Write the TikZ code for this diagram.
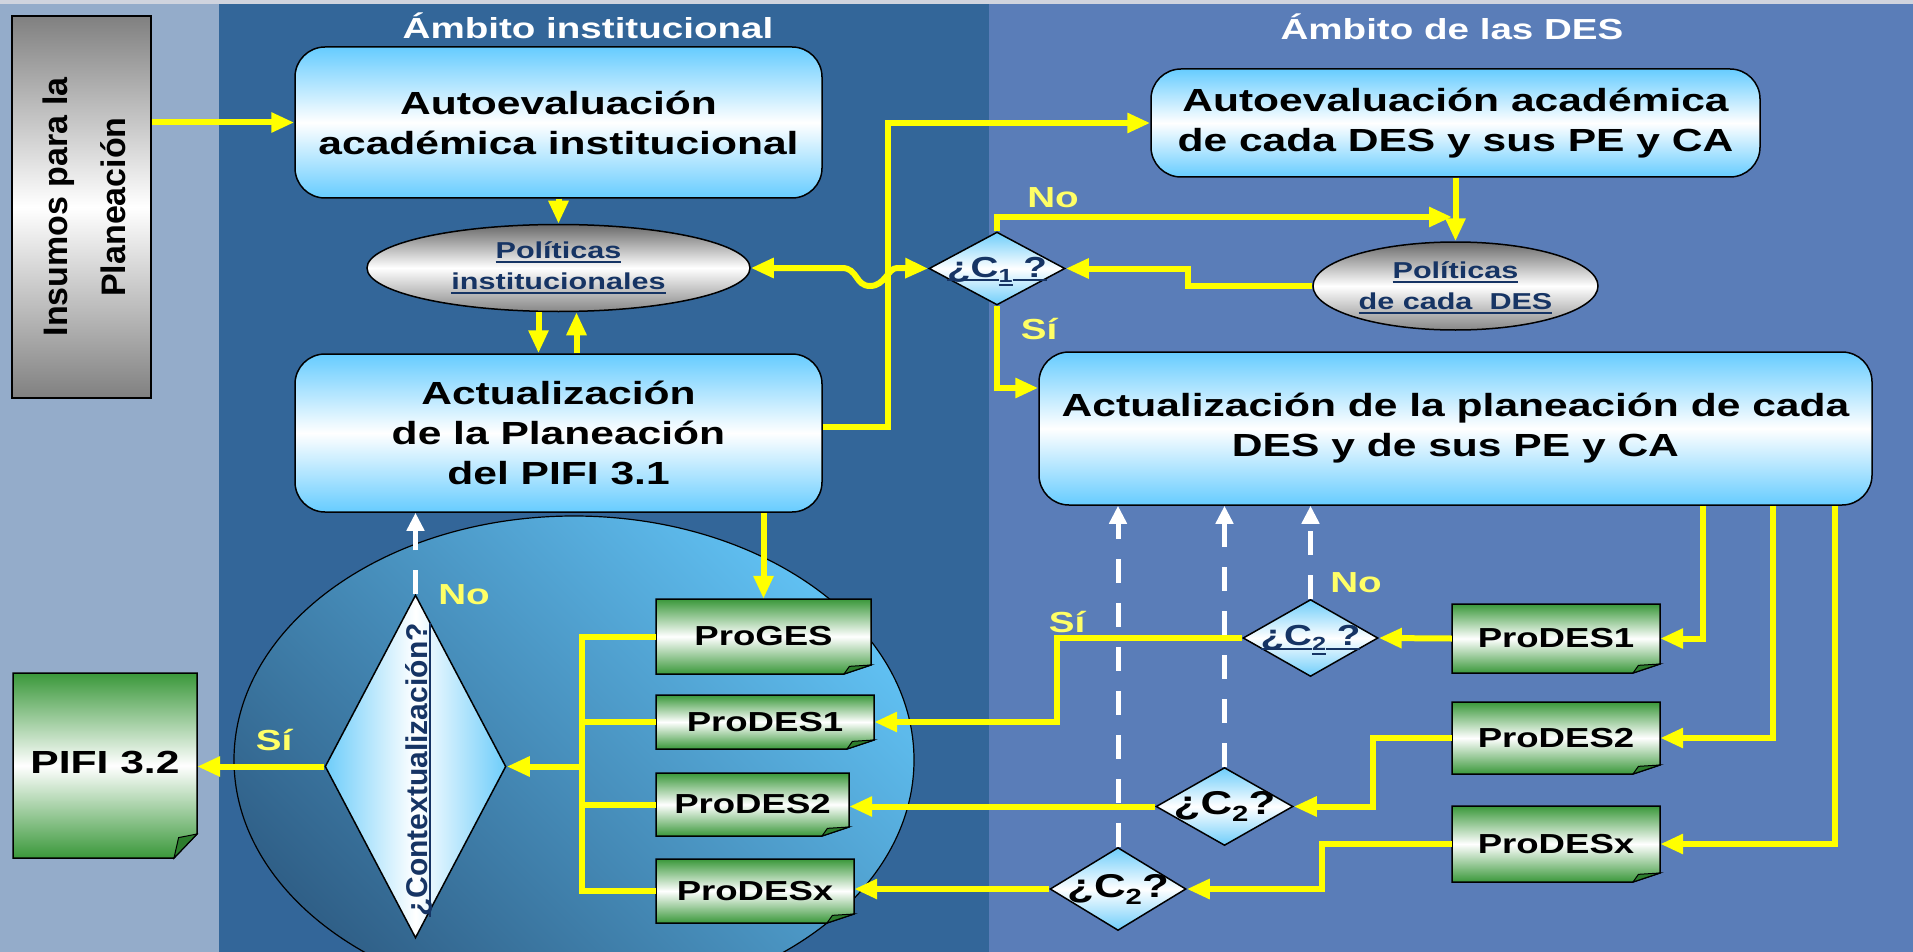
\documentclass[tikz,border=0pt]{standalone}
\usepackage{fontspec}
\setmainfont{Liberation Sans}[FakeStretch=1.33]
\newfontfamily\rotfont{Liberation Sans}
\usepackage{graphicx}
\usetikzlibrary{shapes.geometric,arrows.meta,calc}

\definecolor{leftbg}{RGB}{148,172,202}
\definecolor{midbg}{RGB}{51,102,153}
\definecolor{rightbg}{RGB}{90,125,184}
\definecolor{topstrip}{RGB}{208,212,222}
\definecolor{boxblue}{RGB}{102,204,255}
\definecolor{dmdblue}{RGB}{110,205,250}
\definecolor{docgreen}{RGB}{58,152,58}
\definecolor{flapgreen}{RGB}{45,125,45}
\definecolor{insgray}{RGB}{128,128,128}
\definecolor{ellgrayA}{RGB}{105,105,105}
\definecolor{ellgrayB}{RGB}{135,135,135}
\definecolor{navy}{RGB}{22,52,100}
\definecolor{ylw}{RGB}{255,255,0}
\definecolor{ylwtext}{RGB}{255,255,102}
\definecolor{ellLight}{RGB}{96,192,242}
\definecolor{ellDark}{RGB}{48,96,136}

\newcommand\ulx[1]{\setbox0=\hbox{#1}\rlap{\rule[-4pt]{\wd0}{2pt}}\box0}

\newcommand\docnode[8]{%
  \shade[docfill] ({#2-#4/2},{#3-#5/2}) -- ({#2+#4/2},{#3-#5/2}) -- ({#2+#4/2},{#3+#5/2-#7}) -- ({#2+#4/2-#6},{#3+#5/2}) -- ({#2-#4/2},{#3+#5/2}) -- cycle;
  \filldraw[docflap] ({#2+#4/2},{#3+#5/2-#7}) -- ({#2+#4/2-#6},{#3+#5/2}) -- ({#2+#4/2-0.8*#6},{#3+#5/2-0.85*#7}) -- cycle;
  \node[doctext, minimum width=#4pt, minimum height=#5pt] (#1) at (#2,#3) {#8};
}

\tikzset{
 bluebox/.style={draw=black, line width=1.5pt, rounded corners=30pt, top color=boxblue, bottom color=boxblue, middle color=white, align=center, inner sep=0pt, font=\bfseries\fontsize{32}{40}\selectfont},
 grayell/.style={ellipse, draw=black, line width=1.5pt, top color=ellgrayA, bottom color=ellgrayB, middle color=white, inner sep=0pt},
 poltext/.style={align=center, inner sep=0pt, text=navy, font=\bfseries\fontsize{23}{31}\selectfont},
 dmd/.style={diamond, draw=black, line width=1.5pt, top color=dmdblue, bottom color=dmdblue, middle color=white, inner sep=0pt},
 ctxdmd/.style={diamond, draw=black, line width=1.5pt, left color=dmdblue, right color=dmdblue, middle color=white, inner sep=0pt},
 dtext/.style={inner sep=0pt, font=\bfseries\fontsize{28}{30}\selectfont},
 doctext/.style={inner sep=0pt, font=\bfseries\fontsize{27.5}{30}\selectfont},
 docfill/.style={draw=black, line width=1.5pt, top color=docgreen, bottom color=docgreen, middle color=white},
 docflap/.style={draw=black, line width=1pt, fill=flapgreen},
 yarrow/.style={draw=ylw, line width=6pt, line join=miter, -{Triangle[length=23pt,width=19pt]}},
 ydouble/.style={draw=ylw, line width=6pt, {Triangle[length=23pt,width=19pt]}-{Triangle[length=23pt,width=19pt]}},
 yline/.style={draw=ylw, line width=6pt, line join=miter},
 warrow/.style={draw=white, line width=5pt, dash pattern=on 24pt off 20pt, -{Triangle[length=18pt,width=17pt]}},
 ylbl/.style={inner sep=0pt, text=ylwtext, font=\bfseries\fontsize{29}{30}\selectfont},
 titletext/.style={inner sep=0pt, text=white, font=\bfseries\fontsize{29}{30}\selectfont},
}

\begin{document}
\begin{tikzpicture}[x=1pt,y=-1pt]
\useasboundingbox (0,0) rectangle (1913,952);
\clip (0,0) rectangle (1913,952);
% backgrounds
\fill[leftbg] (0,0) rectangle (219,952);
\fill[midbg] (219,0) rectangle (989,952);
\fill[rightbg] (989,0) rectangle (1913,952);
\fill[topstrip] (0,0) rectangle (1913,4.5);

% big ellipse
\node[ellipse, draw=black, line width=1.2pt, minimum width=680pt, minimum height=488pt, inner sep=0pt, top color=ellLight, bottom color=ellDark, shading angle=-45] (bigEll) at (574,760) {};

% insumos
\node[draw=black, line width=1.5pt, top color=insgray, bottom color=insgray, middle color=white, minimum width=139pt, minimum height=382pt, inner sep=0pt] (insumos) at (81.5,207) {};
\node[rotate=90, inner sep=0pt, align=center, font=\rotfont\bfseries\fontsize{34}{58}\selectfont] (insT) at (84,207) {Insumos para la\\Planeación};

% titles
\node[titletext] (tI) at (588,26) {Ámbito institucional};
\node[titletext] (tD) at (1452,27) {Ámbito de las DES};

% institutional side
\node[bluebox, minimum width=527pt, minimum height=151pt] (autoI) at (558.5,122.5) {Autoevaluación\\académica institucional};
\node[grayell, minimum width=383pt, minimum height=87pt] (polI) at (558.5,268) {};
\node[poltext] (polIT) at (558.5,268) {\ulx{Políticas}\\\ulx{institucionales}};
\node[bluebox, minimum width=527pt, minimum height=158pt] (actI) at (558.5,433) {Actualización\\de la Planeación\\del PIFI 3.1};

% DES side
\node[bluebox, minimum width=609pt, minimum height=108pt] (autoD) at (1455.5,123) {Autoevaluación académica\\de cada DES y sus PE y CA};
\node[dmd, minimum width=136pt, minimum height=73pt] (c1) at (997,268.5) {};
\node[dtext, text=navy] (c1T) at ([yshift=-3pt]c1.center) {\fontsize{29}{30}\selectfont\ulx{¿C}\raisebox{-5pt}{\ulx{\fontsize{19}{19}\selectfont 1}}\ulx{\ ?}};
\node[grayell, minimum width=285pt, minimum height=88pt] (polD) at (1455.5,286) {};
\node[poltext] (polDT) at (1455.5,288) {\ulx{Políticas}\\\ulx{de cada\ \ DES}};
\node[bluebox, minimum width=833pt, minimum height=153pt] (actD) at (1455.5,428.5) {Actualización de la planeación de cada\\DES y de sus PE y CA};

% C2 diamonds
\node[dmd, minimum width=135pt, minimum height=77pt] (c2a) at (1310.5,638) {};
\node[dtext, text=navy] (c2aT) at ([yshift=-2pt]c2a.center) {\fontsize{29}{30}\selectfont\ulx{¿C}\raisebox{-5pt}{\ulx{\fontsize{19}{19}\selectfont 2}}\ulx{\ ?}};
\node[dmd, minimum width=137pt, minimum height=78pt] (c2b) at (1224.5,806.5) {};
\node[dtext] (c2bT) at (c2b.center) {\fontsize{33}{34}\selectfont ¿C\raisebox{-7pt}{\fontsize{22}{22}\selectfont 2}?};
\node[dmd, minimum width=136pt, minimum height=83pt] (c2c) at (1118,889) {};
\node[dtext] (c2cT) at (c2c.center) {\fontsize{33}{34}\selectfont ¿C\raisebox{-7pt}{\fontsize{22}{22}\selectfont 2}?};

% documents right
\docnode{pd1R}{1556}{638.5}{208}{69}{27}{9}{ProDES1}
\docnode{pd2R}{1556}{738}{208}{72}{27}{9}{ProDES2}
\docnode{pdxR}{1556}{844}{208}{76}{27}{9}{ProDESx}
% documents left
\docnode{proges}{763.5}{636.5}{215}{75}{27}{9}{ProGES}
\docnode{pd1L}{765}{722}{218}{54}{27}{9}{ProDES1}
\docnode{pd2L}{752.5}{804.5}{193}{63}{27}{9}{ProDES2}
\docnode{pdxL}{755}{891}{198}{64}{27}{9}{ProDESx}
\docnode{pifi}{105}{765.5}{184}{185}{23}{24}{\raisebox{6pt}{\fontsize{32}{36}\selectfont PIFI 3.2}}

% contextualizacion diamond
\node[ctxdmd, minimum width=181pt, minimum height=343pt] (ctx) at (415.5,766.5) {};
\node[rotate=90, inner sep=0pt, text=navy, font=\rotfont\bfseries\fontsize{30}{32}\selectfont] (ctxT) at (419,770) {\ulx{¿Contextualización?}};

% named bend points
\coordinate (jTop) at (888,123);
\coordinate (noTip) at (1452,217);
\coordinate (kC1) at (1188,268.5);
\coordinate (siY) at (0,388);
\coordinate (r1) at (1703,0);
\coordinate (r2) at (1773,0);
\coordinate (r3) at (1835,0);
\coordinate (k1) at (1057,0);
\coordinate (k2) at (1373,0);
\coordinate (k3) at (1322,0);
\coordinate (bx) at (582,0);

% white dashed "No" arrows
\draw[warrow] (ctx.north) -- (ctx.north |- actI.south);
\draw[warrow] (c2a.north) -- (c2a.north |- actD.south);
\draw[warrow] (c2b.north) -- (c2b.north |- actD.south);
\draw[warrow] (c2c.north) -- (c2c.north |- actD.south);

% yellow connectors
\draw[yarrow] (insumos.east |- autoI.west) -- (autoI.west);
\draw[yarrow] (autoI.south) -- (polI.north);
\draw[yarrow] ([xshift=-20pt]polI.south) -- ([xshift=-20pt]polI.south |- actI.north);
\draw[yarrow] ([xshift=18pt]actI.north) -- ([xshift=18pt]actI.north |- polI.south);
\draw[yarrow] (actI.east) ++(0,-6) -| (jTop) -- (autoD.west);
\draw[ydouble] (polI.east) -- (842,268) .. controls (858,268) and (855,286) .. (870,286) .. controls (885,286) and (888,268) .. (897,268) -- (c1.west);
\draw[yarrow] (autoD.south) -- (polD.north);
\draw[yarrow] (c1.north) |- (noTip);
\draw[yarrow] (polD.west) -| (kC1) -- (c1.east);
\draw[yarrow] (c1.south) |- (actD.west |- siY);
\draw[yarrow] (actD.south -| r1) |- (pd1R.east);
\draw[yarrow] (actD.south -| r2) |- (pd2R.east);
\draw[yarrow] (actD.south -| r3) |- (pdxR.east);
\draw[yarrow] (pd1R.west) -- (c2a.east);
\draw[yarrow] (c2a.west) -| (k1 |- pd1L.east) -- (pd1L.east);
\draw[yarrow] (pd2R.west) -| (k2 |- c2b.east) -- (c2b.east);
\draw[yarrow] (c2b.west) -- (c2b.west -| pd2L.east);
\draw[yarrow] (pdxR.west) -| (k3 |- c2c.east) -- (c2c.east);
\draw[yarrow] (c2c.west) -- (c2c.west -| pdxL.east);
\draw[yarrow] (actI.south -| proges.north) -- (proges.north);
\draw[yline] (proges.west) -| (bx |- pdxL.west) -- (pdxL.west);
\draw[yline] (pd1L.west) -- (pd1L.west -| bx);
\draw[yline] (pd2L.west) -- (pd2L.west -| bx);
\draw[yarrow] (ctx.east -| bx) -- (ctx.east);
\draw[yarrow] (ctx.west) -- (ctx.west -| pifi.east);

% labels
\node[ylbl] (noCtx) at (464,595) {No};
\node[ylbl] (siCtx) at (274,740) {Sí};
\node[ylbl] (noC1) at (1053,198) {No};
\node[ylbl] (siC1) at (1039,329) {Sí};
\node[ylbl] (noC2) at (1356,583) {No};
\node[ylbl] (siC2) at (1067,622) {Sí};
\end{tikzpicture}
\end{document}
